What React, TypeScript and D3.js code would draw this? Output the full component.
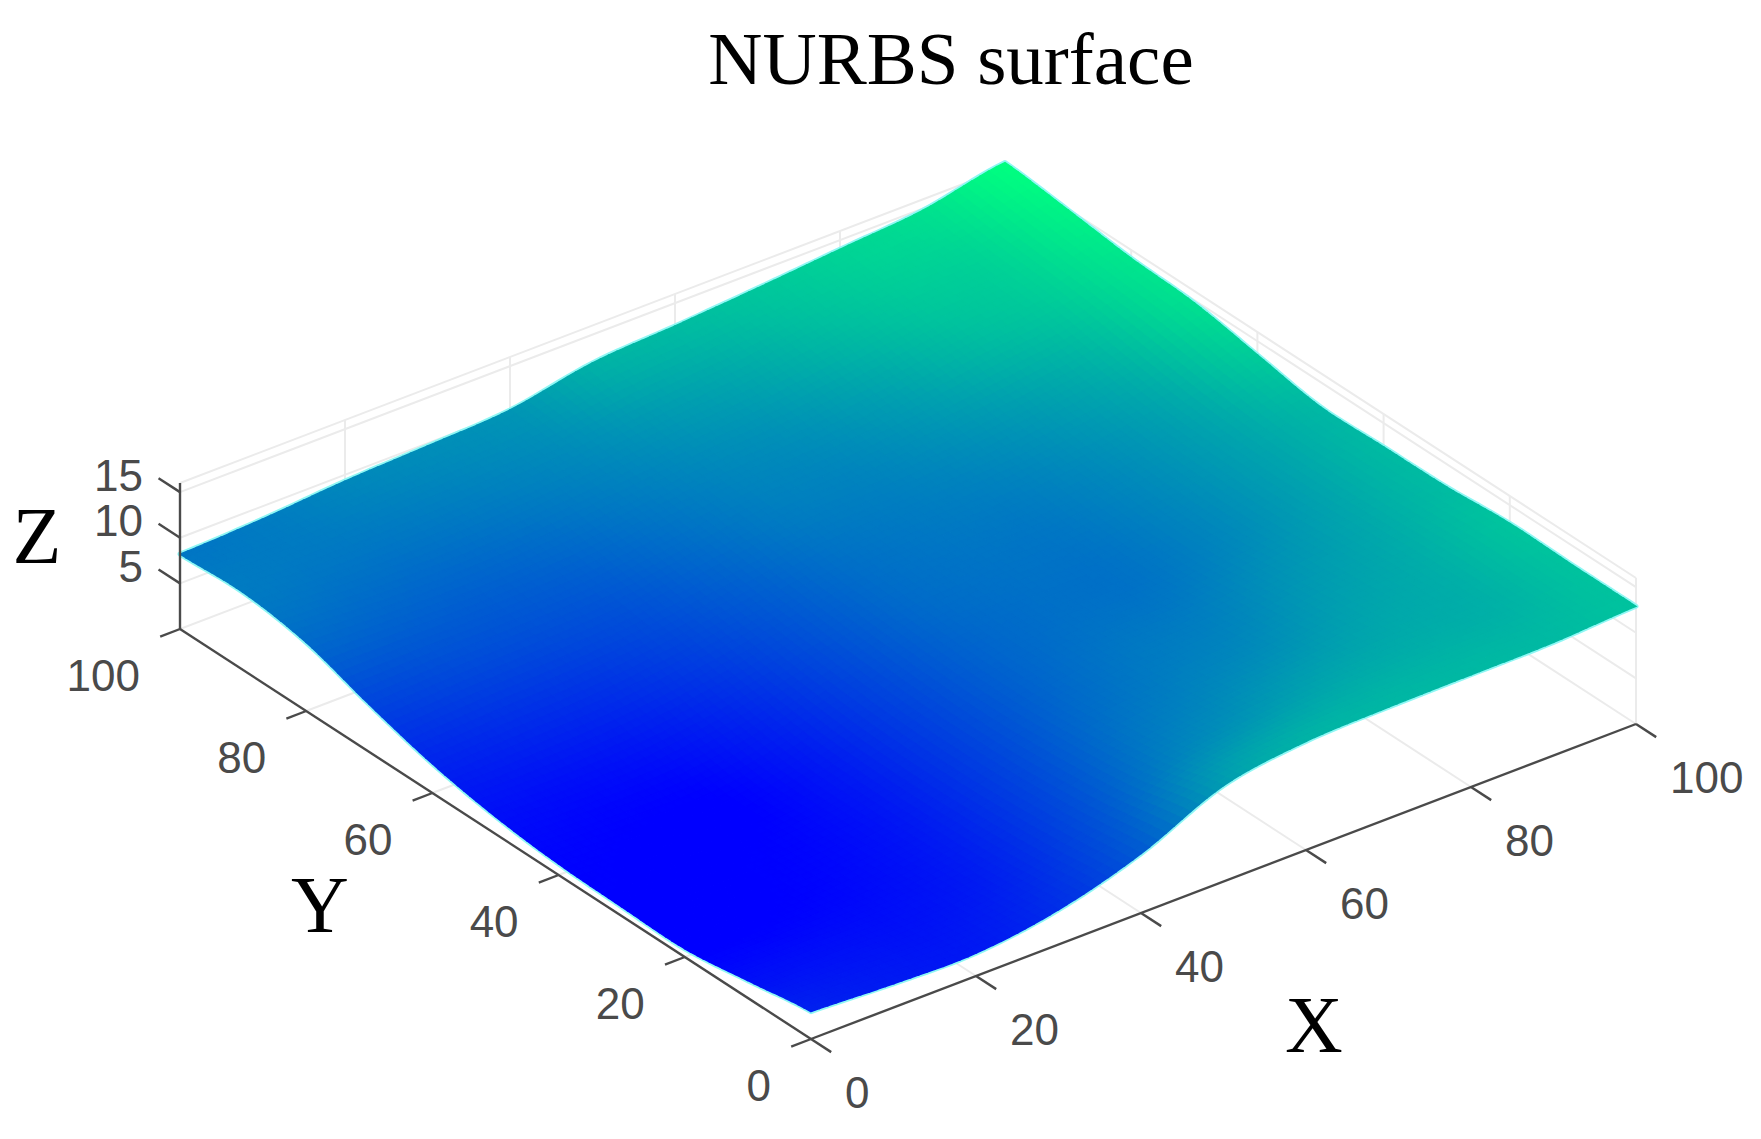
import { useEffect, useRef } from 'react'
import * as d3 from 'd3'

const gridX = [0, 10, 20, 30, 40, 50, 60, 70, 80, 90, 100]
const gridY = [0, 10, 20, 30, 40, 50, 60, 70, 80, 90, 100]

// z, one row per gridY value
const row0 = [3.0, 2.6, 2.5, 3.8, 6.5, 10.5, 11.9, 12.2, 12.3, 12.4, 12.9]
const row10 = [1.9, 1.9, 2.0, 3.0, 5.6, 8.6, 10.0, 11.0, 11.5, 11.8, 12.9]
const row20 = [0.9, 1.0, 1.5, 2.6, 5.0, 7.6, 8.8, 9.6, 10.8, 11.6, 13.0]
const row30 = [1.0, 1.0, 1.2, 2.4, 4.8, 7.0, 8.2, 8.7, 10.0, 11.2, 12.5]
const row40 = [1.2, 1.0, 1.0, 2.6, 5.0, 7.0, 7.8, 8.0, 9.2, 10.8, 12.4]
const row50 = [1.9, 1.8, 2.2, 3.6, 5.6, 7.4, 8.0, 8.2, 9.3, 10.8, 12.3]
const row60 = [3.2, 3.6, 4.0, 5.0, 6.4, 7.8, 8.4, 8.8, 9.8, 11.2, 13.5]
const row70 = [5.2, 5.6, 5.8, 6.2, 7.4, 8.6, 9.0, 9.8, 10.8, 12.2, 14.7]
const row80 = [7.5, 7.2, 7.1, 7.5, 8.4, 9.3, 9.9, 11.0, 12.4, 13.4, 15.1]
const row90 = [8.5, 8.3, 8.4, 8.8, 9.4, 10.4, 11.2, 12.4, 13.4, 14.0, 15.9]
const row100 = [8.2, 8.6, 9.3, 9.7, 10.2, 11.9, 12.5, 13.2, 14.0, 14.8, 16.6]
const zRows = [row0, row10, row20, row30, row40, row50, row60, row70, row80, row90, row100]

const xTicks = [0, 20, 40, 60, 80, 100]
const yTicks = [0, 20, 40, 60, 80, 100]
const zTicks = [5, 10, 15]
const zTop = 16

const title = 'NURBS surface'

const WIDTH = 1761
const HEIGHT = 1139
const AXIS_COLOR = '#4a4a4a'
const GRID_COLOR = '#ebebeb'
const SANS = '"Liberation Sans", Arial, sans-serif'
const SERIF = '"Liberation Serif", "Times New Roman", serif'

// parallel projection of the box: each data axis gets its own screen scale
const sxFromX = d3.scaleLinear().domain([0, 100]).range([0, 825])
const syFromX = d3.scaleLinear().domain([0, 100]).range([0, -315])
const sxFromY = d3.scaleLinear().domain([0, 100]).range([0, -631])
const syFromY = d3.scaleLinear().domain([0, 100]).range([0, -410])
const syFromZ = d3.scaleLinear().domain([0, 16]).range([0, -146])
const origin = [811, 1039]

const project = (x: number, y: number, z: number): [number, number] => [
  origin[0] + sxFromX(x) + sxFromY(y),
  origin[1] + syFromX(x) + syFromY(y) + syFromZ(z),
]

// MATLAB winter colormap
const color = d3
  .scaleLinear<string>()
  .domain([1, 16.6])
  .range(['#0000ff', '#00ff80'])
  .clamp(true)

const catmull = (p0: number, p1: number, p2: number, p3: number, t: number) =>
  0.5 *
  (2 * p1 +
    (p2 - p0) * t +
    (2 * p0 - 5 * p1 + 4 * p2 - p3) * t * t +
    (3 * p1 - p0 - 3 * p2 + p3) * t * t * t)

// shading of the surface between the read values, like shading interp
const sampleZ = (x: number, y: number) => {
  const last = gridX.length - 1
  const u = Math.min(x / 10, last - 1e-6)
  const v = Math.min(y / 10, last - 1e-6)
  const i = Math.floor(u)
  const j = Math.floor(v)
  const at = (c: number, r: number) =>
    zRows[Math.max(0, Math.min(last, r))][Math.max(0, Math.min(last, c))]
  const across = (r: number) =>
    catmull(at(i - 1, r), at(i, r), at(i + 1, r), at(i + 2, r), u - i)
  return catmull(across(j - 1), across(j), across(j + 1), across(j + 2), v - j)
}

export default function App() {
  const svgRef = useRef<SVGSVGElement>(null)

  useEffect(() => {
    if (!svgRef.current) return
    const svg = d3.select(svgRef.current)
    svg.selectAll('*').remove()

    const line = d3.line()
    const segment = (a: [number, number], b: [number, number]) => line([a, b])

    // Grid lines on floor and back walls
    const grid = svg.append('g').attr('fill', 'none').attr('stroke', GRID_COLOR).attr('stroke-width', 2)
    xTicks.slice(1).forEach(x => {
      grid.append('path').attr('d', segment(project(x, 0, 0), project(x, 100, 0)))
      grid.append('path').attr('d', segment(project(x, 100, 0), project(x, 100, zTop)))
    })
    yTicks.forEach(y => {
      if (y > 0) grid.append('path').attr('d', segment(project(0, y, 0), project(100, y, 0)))
      grid.append('path').attr('d', segment(project(100, y, 0), project(100, y, zTop)))
    })
    zTicks.forEach(z => {
      grid.append('path').attr('d', segment(project(0, 100, z), project(100, 100, z)))
      grid.append('path').attr('d', segment(project(100, 100, z), project(100, 0, z)))
    })
    grid.append('path').attr('d', segment(project(0, 100, zTop), project(100, 100, zTop)))
    grid.append('path').attr('d', segment(project(100, 100, zTop), project(100, 0, zTop)))

    // Surface, back to front
    const steps = d3.range(0, 100.001, 1)
    const outline: [number, number][] = [
      ...steps.map(x => project(x, 0, sampleZ(x, 0))),
      ...steps.map(y => project(100, y, sampleZ(100, y))),
      ...steps.slice().reverse().map(x => project(x, 100, sampleZ(x, 100))),
      ...steps.slice().reverse().map(y => project(0, y, sampleZ(0, y))),
    ]
    svg
      .append('path')
      .attr('d', d3.line()(outline) + 'Z')
      .attr('fill', 'none')
      .attr('stroke', '#8ff7f4')
      .attr('stroke-width', 5)
      .attr('stroke-linejoin', 'round')

    const surface = svg.append('g')
    for (let k = steps.length - 2; k >= 0; k--) {
      for (let m = steps.length - 2; m >= 0; m--) {
        const x0 = steps[m]
        const x1 = steps[m + 1]
        const y0 = steps[k]
        const y1 = steps[k + 1]
        const c = color(sampleZ((x0 + x1) / 2, (y0 + y1) / 2))
        const corners = [
          project(x0, y0, sampleZ(x0, y0)),
          project(x1, y0, sampleZ(x1, y0)),
          project(x1, y1, sampleZ(x1, y1)),
          project(x0, y1, sampleZ(x0, y1)),
        ]
        surface
          .append('path')
          .attr('d', d3.line()(corners) + 'Z')
          .attr('fill', c)
          .attr('stroke', c)
          .attr('stroke-width', 1.4)
      }
    }

    // Axis lines and ticks
    const axes = svg
      .append('g')
      .attr('fill', 'none')
      .attr('stroke', AXIS_COLOR)
      .attr('stroke-width', 2.4)
    axes.append('path').attr('d', segment(project(0, 0, 0), project(100, 0, 0)))
    axes.append('path').attr('d', segment(project(0, 0, 0), project(0, 100, 0)))
    axes.append('path').attr('d', segment(project(0, 100, 0), project(0, 100, zTop)))

    xTicks.forEach(x => {
      axes.append('path').attr('d', segment(project(x, 0, 0), project(x, -3.2, 0)))
    })
    yTicks.forEach(y => {
      axes.append('path').attr('d', segment(project(0, y, 0), project(-2.4, y, 0)))
    })
    zTicks.forEach(z => {
      axes.append('path').attr('d', segment(project(0, 100, z), project(0, 103.4, z)))
    })

    // Tick labels
    const labels = svg
      .append('g')
      .attr('font-family', SANS)
      .attr('font-size', 44)
      .attr('fill', AXIS_COLOR)
      .attr('dominant-baseline', 'central')
    xTicks.forEach(x => {
      const [px, py] = project(x, 0, 0)
      labels.append('text').attr('x', px + 34).attr('y', py + 53).text(x)
    })
    yTicks.forEach(y => {
      const [px, py] = project(0, y, 0)
      labels.append('text').attr('x', px - 40).attr('y', py + 46).attr('text-anchor', 'end').text(y)
    })
    zTicks.forEach(z => {
      const [px, py] = project(0, 100, z)
      labels.append('text').attr('x', px - 37).attr('y', py - 17).attr('text-anchor', 'end').text(z)
    })

    // Axis titles
    const axisTitles = svg
      .append('g')
      .attr('font-family', SERIF)
      .attr('font-size', 80)
      .attr('fill', '#000')
      .attr('text-anchor', 'middle')
    axisTitles.append('text').attr('x', 37).attr('y', 563).text('Z')
    axisTitles.append('text').attr('x', 320).attr('y', 932).text('Y')
    axisTitles.append('text').attr('x', 1314).attr('y', 1052).text('X')

    svg
      .append('text')
      .attr('x', 951)
      .attr('y', 84)
      .attr('text-anchor', 'middle')
      .attr('font-family', SERIF)
      .attr('font-size', 75)
      .attr('fill', '#000')
      .text(title)
  }, [])

  return (
    <svg
      ref={svgRef}
      width={WIDTH}
      height={HEIGHT}
      style={{ position: 'absolute', left: 0, top: 0, background: '#fff' }}
    />
  )
}
